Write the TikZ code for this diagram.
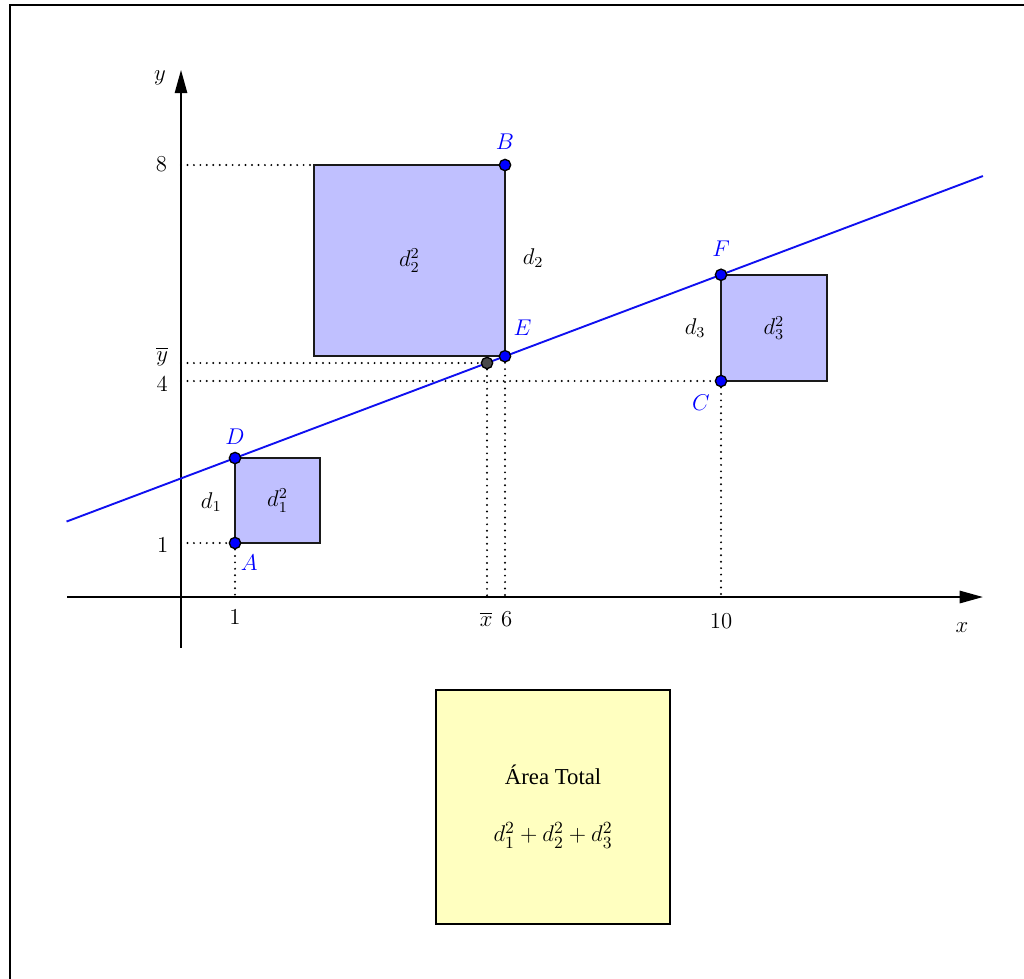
\documentclass[tikz,border=0pt]{standalone}
\usepackage{amsmath,amssymb}
\usepackage{fontspec}
\newfontfamily\areafont{Liberation Serif}
\usepackage{xcolor}
\usepackage{tikz}
\usetikzlibrary{arrows.meta,positioning}
\definecolor{SqBlue}{HTML}{C0C0FF}
\definecolor{PtBlue}{HTML}{0000FF}
\definecolor{FitBlue}{HTML}{1010F0}
\definecolor{BoxYellow}{HTML}{FFFFC0}
\definecolor{MeanGray}{HTML}{4A4A4A}
\definecolor{EdgeDark}{HTML}{1A1A1A}
\tikzset{
  axisline/.style={-{Triangle[length=4.3mm,width=2.3mm]},line width=0.85pt},
  sqbox/.style={draw=EdgeDark,line width=1pt,fill=SqBlue},
  fitline/.style={line width=1pt,draw=FitBlue},
  guide/.style={line width=1.15pt,dash pattern=on 0pt off 3.4pt,line cap=round},
  ptdot/.style={circle,draw=black,line width=0.7pt,fill=PtBlue,inner sep=0pt,minimum size=2.1mm},
  meandot/.style={ptdot,fill=MeanGray},
  ptlabel/.style={text=PtBlue,inner sep=0pt,font=\large},
  areabox/.style={draw=black,line width=0.9pt,fill=BoxYellow,minimum width=43.3mm,minimum height=43.3mm,inner sep=0pt}
}

\begin{document}
\begin{tikzpicture}[font=\large]
\useasboundingbox (-3.352,-7.056) rectangle (15.611,11.056);
\draw[line width=1.3pt] (-3.167,-8) -- (-3.167,10.963) -- (16,10.963);

% data and fitted points
\coordinate (O) at (0,0);
\coordinate (A) at (1,1);
\coordinate (B) at (6,8);
\coordinate (C) at (10,4);
\coordinate (D) at (1,2.5738);
\coordinate (E) at (6,4.4590);
\coordinate (F) at (10,5.9672);
\coordinate (M) at (5.6667,4.3333);
\coordinate (G) at (2.4590,8);

% squares of the residuals
\draw[sqbox] (A) rectangle (2.5738,2.5738);
\draw[sqbox] (E) rectangle (G);
\draw[sqbox] (C) rectangle (11.9672,5.9672);
\node at (1.787,1.787) {$d_1^2$};
\node at (4.23,6.23) {$d_2^2$};
\node at (10.98,4.98) {$d_3^2$};
\node at (0.56,1.76) {$d_1$};
\node at (6.52,6.28) {$d_2$};
\node at (9.52,4.98) {$d_3$};

% axes
\draw[axisline] (-2.11,0) -- (14.85,0);
\draw[axisline] (0,-0.94) -- (0,9.76);
\node at (14.46,-0.56) {$x$};
\node at (-0.39,9.61) {$y$};
\node at (1,-0.37) {$1$};
\node at (5.65,-0.41) {$\overline{x}$};
\node at (6.03,-0.41) {$6$};
\node at (10,-0.44) {$10$};
\node at (-0.36,8.02) {$8$};
\node at (-0.35,4.46) {$\overline{y}$};
\node at (-0.35,3.94) {$4$};
\node at (-0.34,0.96) {$1$};

% guides
\draw[guide] (O |- B) -- (G);
\draw[guide] (O |- M) -- (M);
\draw[guide] (O |- C) -- (C);
\draw[guide] (O |- A) -- (A);
\draw[guide] (A) -- (A |- O);
\draw[guide] (M) -- (M |- O);
\draw[guide] (E) -- (E |- O);
\draw[guide] (C) -- (C |- O);

% regression line
\coordinate (L0) at (-2.12,1.3974);
\coordinate (L1) at (14.85,7.7959);
\draw[fitline] (L0) -- (L1);

\node[meandot] (pM) at (M) {};
\node[ptdot] (pA) at (A) {};
\node[ptdot] (pB) at (B) {};
\node[ptdot] (pC) at (C) {};
\node[ptdot] (pD) at (D) {};
\node[ptdot] (pE) at (E) {};
\node[ptdot] (pF) at (F) {};
\node[ptlabel,below right=1.3mm and 0.2mm of pA] {$A$};
\node[ptlabel,above=1.6mm of pB] {$B$};
\node[ptlabel,below left=1.7mm and 1.2mm of pC] {$C$};
\node[ptlabel,above=1.35mm of pD] {$D$};
\node[ptlabel,above right=2.9mm and 0.7mm of pE] {$E$};
\node[ptlabel,above=2.1mm of pF] {$F$};

% total area
\node[areabox] (total) at (6.89,-3.89) {};
\node at (6.89,-3.30) {\areafont Área Total};
\node[font=\fontsize{13}{15}\selectfont] at (6.89,-4.41) {$d_1^2+d_2^2+d_3^2$};
\end{tikzpicture}
\end{document}
